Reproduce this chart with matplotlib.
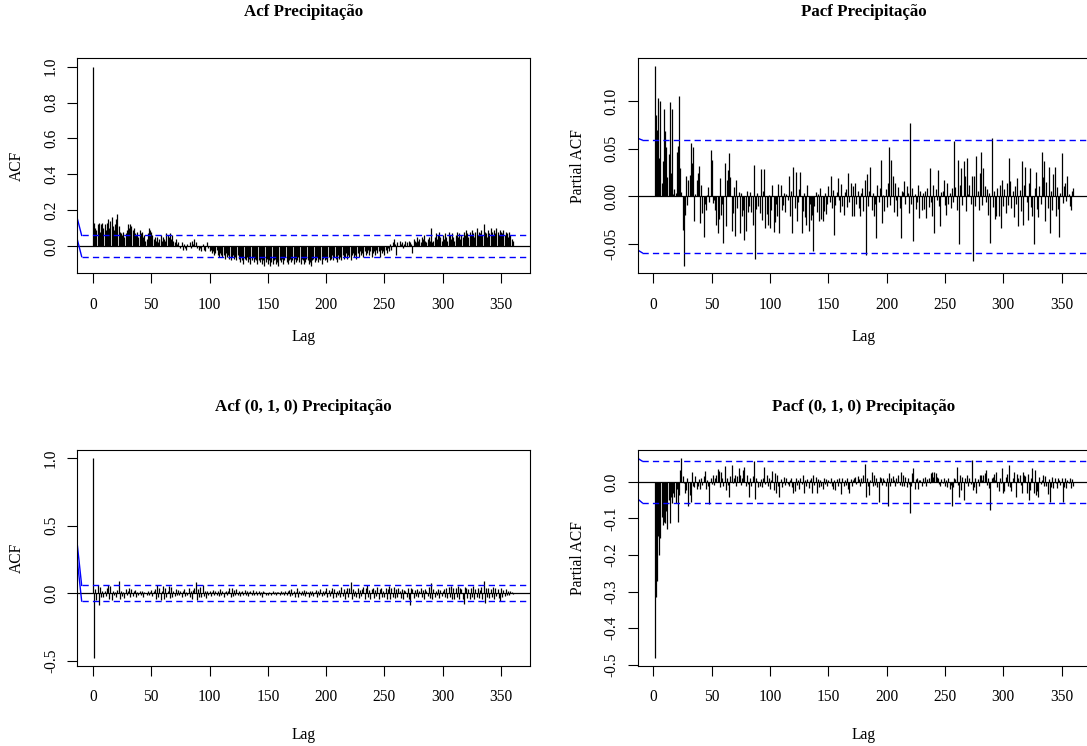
import matplotlib
matplotlib.use("Agg")
import matplotlib.pyplot as plt
import numpy as np

plt.rcParams['font.family'] = ['Liberation Serif', 'DejaVu Serif']

# ---------------- data ----------------
titles = ["Acf Precipitação", "Pacf Precipitação",
          "Acf (0, 1, 0) Precipitação", "Pacf (0, 1, 0) Precipitação"]
ylabels = ["ACF", "Partial ACF", "ACF", "Partial ACF"]
x_ticks = [0, 50, 100, 150, 200, 250, 300, 350]

acf_lags = list(range(0, 361))
pacf_lags = list(range(1, 361))

acf_orig = [
    1.00,
    0.13, 0.10, 0.09, 0.12, 0.13, 0.08, 0.12, 0.13, 0.10, 0.12,
    0.09, 0.13, 0.15, 0.10, 0.14, 0.16, 0.11, 0.09, 0.12, 0.15,
    0.18, 0.11, 0.08, 0.07, 0.06, 0.08, 0.05, 0.07, 0.09, 0.12,
    0.10, 0.12, 0.11, 0.09, 0.10, 0.07, 0.06, 0.08, 0.05, 0.09,
    0.07, 0.08, 0.05, 0.06, 0.03, 0.04, 0.07, 0.10, 0.09, 0.08,
    0.06, 0.04, 0.05, 0.03, 0.05, 0.02, 0.04, 0.06, 0.03, 0.05,
    0.04, 0.03, 0.07, 0.06, 0.05, 0.07, 0.04, 0.06, 0.03, 0.02,
    0.04, 0.01, 0.02, 0.00, -0.01, 0.02, -0.02, 0.01, -0.01, -0.02,
    0.01, 0.00, 0.02, -0.01, 0.03, 0.01, 0.04, 0.02, -0.01, 0.00,
    -0.02, -0.01, -0.03, 0.01, -0.02, -0.03, 0.00, 0.02, -0.01, -0.03,
    -0.02, -0.04, -0.03, -0.05, -0.04, -0.02, -0.05, -0.06, -0.04, -0.05,
    -0.06, -0.05, -0.07, -0.04, -0.06, -0.05, -0.07, -0.08, -0.06, -0.05,
    -0.07, -0.06, -0.08, -0.05, -0.07, -0.09, -0.06, -0.08, -0.10, -0.07,
    -0.08, -0.06, -0.09, -0.07, -0.10, -0.08, -0.06, -0.09, -0.07, -0.08,
    -0.10, -0.08, -0.09, -0.07, -0.10, -0.08, -0.11, -0.09, -0.07, -0.10,
    -0.08, -0.11, -0.09, -0.10, -0.08, -0.07, -0.10, -0.09, -0.11, -0.08,
    -0.09, -0.07, -0.10, -0.08, -0.06, -0.09, -0.10, -0.08, -0.07, -0.09,
    -0.08, -0.10, -0.07, -0.09, -0.08, -0.06, -0.09, -0.10, -0.07, -0.08,
    -0.10, -0.09, -0.07, -0.08, -0.10, -0.09, -0.11, -0.08, -0.07, -0.09,
    -0.08, -0.06, -0.09, -0.07, -0.08, -0.10, -0.07, -0.06, -0.08, -0.07,
    -0.09, -0.06, -0.08, -0.07, -0.05, -0.08, -0.06, -0.07, -0.09, -0.05,
    -0.07, -0.06, -0.08, -0.05, -0.07, -0.06, -0.04, -0.07, -0.05, -0.06,
    -0.08, -0.05, -0.04, -0.06, -0.05, -0.07, -0.04, -0.06, -0.03, -0.05,
    -0.04, -0.06, -0.03, -0.05, -0.04, -0.02, -0.05, -0.03, -0.06, -0.04,
    -0.03, -0.05, -0.02, -0.04, -0.03, -0.06, -0.02, -0.04, -0.03, -0.05,
    -0.02, -0.04, -0.01, -0.03, 0.01, -0.02, 0.02, 0.04, 0.01, -0.05,
    0.02, 0.00, 0.03, 0.01, 0.02, -0.01, 0.01, 0.03, 0.02, 0.00,
    0.03, 0.02, 0.01, -0.04, 0.04, 0.03, 0.02, 0.05, 0.03, 0.04,
    0.02, 0.05, 0.04, 0.06, 0.03, 0.02, 0.04, 0.05, 0.03, 0.10,
    0.02, 0.03, 0.05, 0.07, 0.04, 0.06, 0.08, 0.05, 0.03, 0.06,
    0.04, 0.07, 0.05, 0.03, 0.08, 0.06, 0.04, 0.07, 0.05, 0.03,
    0.06, 0.08, 0.05, 0.07, 0.04, 0.06, 0.05, 0.08, 0.06, 0.09,
    0.07, 0.05, 0.08, 0.06, 0.09, 0.07, 0.05, 0.08, 0.10, 0.06,
    0.08, 0.07, 0.09, 0.06, 0.12, 0.08, 0.07, 0.05, 0.09, 0.07,
    0.10, 0.08, 0.06, 0.09, 0.07, 0.10, 0.08, 0.06, 0.09, 0.08,
    0.07, 0.09, 0.06, 0.08, 0.07, 0.05, 0.08, 0.06, 0.04, 0.03,
]

pacf_orig = [
    0.137, 0.085, 0.070, 0.103, 0.040, 0.100, 0.014, 0.037, 0.092, 0.068,
    0.052, 0.020, 0.044, 0.099, 0.025, 0.092, 0.003, 0.008, 0.004, 0.046,
    0.053, 0.105, 0.030, 0.005, -0.035, -0.073, -0.019, 0.021, -0.009, 0.017,
    0.022, 0.056, 0.035, 0.052, -0.026, 0.003, 0.017, 0.024, 0.032, -0.028,
    0.012, -0.017, -0.042, -0.008, -0.014, 0.002, 0.010, -0.006, 0.049, 0.038,
    -0.007, -0.004, -0.014, -0.030, -0.038, -0.024, 0.019, -0.019, -0.008, -0.049,
    0.035, -0.031, 0.017, 0.028, 0.045, 0.020, -0.036, -0.017, 0.010, -0.041,
    0.017, -0.012, 0.005, -0.038, 0.004, -0.020, -0.014, -0.046, -0.036, 0.006,
    -0.016, -0.010, 0.005, -0.016, -0.030, 0.033, -0.066, -0.013, 0.004, -0.010,
    -0.017, 0.029, -0.025, 0.006, 0.029, -0.033, -0.018, -0.030, 0.002, -0.033,
    -0.014, 0.012, -0.037, -0.027, -0.008, -0.020, 0.013, -0.038, 0.012, -0.014,
    -0.009, 0.004, -0.016, 0.003, -0.004, 0.021, -0.021, 0.006, -0.038, 0.031,
    -0.012, 0.026, -0.026, -0.006, 0.008, 0.026, -0.038, -0.015, 0.004, -0.022,
    -0.030, 0.012, -0.036, -0.008, -0.025, -0.019, -0.057, -0.010, 0.005, -0.016,
    0.003, -0.026, 0.009, -0.024, -0.026, -0.015, 0.004, -0.018, -0.008, 0.011,
    -0.006, 0.021, -0.012, 0.007, -0.040, -0.009, 0.005, 0.019, -0.004, -0.016,
    0.013, -0.010, -0.019, 0.005, 0.008, -0.011, 0.024, -0.006, 0.014, -0.020,
    0.011, -0.021, 0.014, -0.008, 0.006, -0.012, -0.021, 0.004, 0.009, -0.015,
    0.017, -0.061, 0.023, -0.010, 0.006, 0.031, -0.014, 0.004, -0.020, -0.008,
    -0.044, 0.012, -0.006, 0.009, 0.038, -0.028, 0.002, -0.015, 0.008, -0.011,
    0.014, 0.052, -0.009, 0.038, 0.021, -0.016, 0.014, -0.004, -0.021, 0.010,
    -0.012, -0.044, 0.006, 0.005, 0.016, -0.008, 0.011, 0.004, -0.017, 0.077,
    -0.008, 0.009, -0.047, 0.003, -0.013, -0.006, 0.012, -0.023, 0.006, -0.014,
    0.004, -0.013, 0.006, -0.023, 0.009, -0.011, 0.030, -0.006, -0.020, 0.012,
    -0.038, 0.008, -0.004, 0.028, -0.010, -0.031, 0.005, 0.006, 0.017, -0.009,
    -0.019, 0.014, -0.008, 0.004, -0.012, 0.009, -0.006, 0.058, 0.010, -0.014,
    0.038, -0.050, 0.012, 0.030, -0.009, 0.037, 0.021, -0.015, 0.040, 0.003,
    0.012, -0.008, 0.021, -0.068, 0.021, -0.010, 0.042, 0.006, -0.014, 0.024,
    0.046, -0.009, 0.030, 0.011, -0.006, 0.008, -0.019, 0.004, -0.049, 0.061,
    -0.011, 0.006, -0.024, -0.020, 0.009, -0.021, 0.012, -0.033, 0.017, -0.010,
    0.008, -0.017, 0.014, -0.009, 0.040, 0.016, -0.012, 0.006, -0.022, 0.011,
    -0.008, 0.019, -0.031, 0.007, -0.015, 0.037, -0.030, 0.012, 0.031, -0.006,
    -0.025, 0.014, 0.030, -0.011, -0.020, -0.050, 0.009, 0.026, -0.013, -0.022,
    0.011, -0.008, 0.046, 0.020, 0.037, -0.026, 0.015, -0.012, 0.031, -0.038,
    0.006, -0.014, 0.023, 0.031, -0.021, 0.010, -0.013, -0.042, 0.004, 0.045,
    -0.007, 0.011, 0.014, -0.005, 0.021, 0.003, -0.010, -0.014, 0.006, 0.009,
]

acf_diff = [
    1.000, -0.480, 0.030, -0.050, 0.060, -0.086, 0.045, -0.030, 0.020, -0.025,
    0.015, -0.020, 0.035, 0.060, -0.040, 0.055, -0.050, 0.020, -0.015, 0.010,
    -0.030, 0.025, 0.094, -0.045, 0.015, -0.020, 0.010, -0.035, 0.030, -0.015,
    0.020, 0.035, -0.025, 0.030, -0.020, 0.015, 0.025, -0.030, 0.010, -0.015,
    0.020, -0.010, 0.015, -0.025, 0.010, 0.005, -0.015, 0.020, -0.010, 0.008,
    0.025, -0.020, 0.015, 0.030, -0.045, 0.060, -0.030, 0.040, -0.050, 0.020,
    0.055, -0.040, 0.035, -0.025, 0.020, 0.050, -0.035, 0.045, -0.030, 0.015,
    -0.020, 0.030, -0.015, 0.025, -0.010, 0.020, -0.025, 0.015, 0.030, -0.020,
    0.010, -0.015, 0.035, -0.030, 0.020, -0.045, 0.025, 0.040, 0.080, -0.050,
    0.030, -0.025, 0.045, -0.030, 0.060, -0.020, 0.015, -0.035, 0.020, -0.010,
    0.015, -0.020, 0.010, 0.025, -0.015, 0.020, -0.010, 0.015, -0.020, 0.030,
    -0.015, 0.020, -0.025, 0.010, 0.015, -0.010, 0.020, 0.035, -0.030, 0.040,
    -0.020, 0.025, -0.015, 0.030, -0.010, 0.015, -0.020, 0.010, 0.020, -0.015,
    0.025, -0.010, 0.015, -0.020, 0.010, 0.020, -0.015, 0.025, -0.010, 0.005,
    0.015, -0.010, 0.020, -0.015, 0.010, -0.025, 0.015, 0.010, -0.010, 0.005,
    -0.015, 0.010, 0.005, -0.010, 0.015, -0.005, 0.010, -0.015, 0.008, 0.012,
    -0.010, 0.015, -0.005, 0.010, -0.015, 0.020, -0.010, 0.015, 0.025, -0.020,
    0.030, -0.015, 0.020, -0.025, 0.010, 0.035, -0.030, 0.015, -0.010, 0.020,
    -0.015, 0.025, -0.020, 0.015, 0.010, -0.025, 0.020, -0.010, 0.015, -0.020,
    0.010, 0.025, -0.030, 0.020, -0.015, 0.030, -0.020, 0.015, -0.010, 0.020,
    0.035, -0.030, 0.025, -0.020, 0.015, 0.040, -0.035, 0.030, -0.025, 0.020,
    -0.015, 0.025, -0.030, 0.045, -0.020, 0.030, -0.040, 0.020, 0.035, -0.025,
    0.040, 0.080, -0.045, 0.030, -0.020, 0.015, -0.030, 0.040, -0.035, 0.025,
    -0.020, 0.030, 0.045, -0.040, 0.035, 0.060, -0.030, 0.025, -0.045, 0.030,
    0.040, -0.035, 0.025, -0.020, 0.045, -0.040, 0.030, 0.035, -0.030, 0.020,
    -0.025, 0.040, -0.045, 0.030, 0.050, -0.040, 0.035, -0.030, 0.045, -0.035,
    0.030, -0.025, 0.040, 0.020, -0.035, 0.030, -0.040, 0.025, 0.015, -0.030,
    0.035, -0.045, -0.086, 0.040, 0.030, -0.035, 0.025, -0.020, 0.030, -0.025,
    0.020, 0.035, -0.030, 0.025, -0.040, 0.030, 0.015, -0.020, 0.045, -0.035,
    0.076, -0.040, 0.030, -0.025, 0.020, -0.015, 0.030, -0.035, 0.025, -0.020,
    0.015, 0.030, -0.025, 0.040, -0.035, 0.045, -0.030, 0.050, -0.040, 0.035,
    -0.045, 0.040, -0.030, 0.055, -0.040, 0.035, 0.030, -0.045, -0.080, 0.045,
    0.040, -0.035, 0.030, -0.045, 0.035, -0.030, 0.050, -0.040, 0.030, -0.025,
    0.040, -0.035, 0.025, 0.045, -0.040, 0.094, -0.070, 0.035, -0.030, 0.040,
    -0.035, 0.030, -0.025, 0.045, -0.040, 0.035, -0.020, 0.030, -0.035, -0.060,
    0.040, -0.030, 0.025, -0.020, 0.030, -0.015, 0.020, -0.010, 0.015, 0.010,
    -0.005,
]

pacf_diff = [
    -0.482, -0.316, -0.270, -0.147, -0.200, -0.154, -0.095, -0.117, -0.110, -0.113,
    -0.080, -0.129, -0.050, -0.113, -0.040, -0.058, -0.030, -0.040, -0.058, -0.020,
    -0.109, -0.035, 0.033, 0.065, 0.015, -0.004, -0.031, -0.022, 0.010, -0.067,
    -0.036, -0.054, 0.026, -0.012, -0.015, 0.015, -0.020, -0.012, 0.008, -0.018,
    0.010, -0.008, 0.015, 0.031, -0.020, 0.005, -0.012, -0.060, 0.010, -0.006,
    0.019, -0.008, 0.012, 0.020, 0.035, 0.031, -0.015, 0.028, 0.010, -0.012,
    0.044, -0.022, 0.012, -0.008, -0.040, 0.015, 0.046, -0.004, 0.012, 0.020,
    -0.010, 0.015, 0.037, 0.020, -0.008, 0.012, 0.033, 0.042, -0.010, 0.018,
    -0.005, -0.040, 0.010, -0.012, 0.015, 0.056, -0.047, 0.012, 0.002, -0.015,
    -0.010, 0.008, -0.014, 0.012, 0.040, -0.006, 0.020, -0.012, 0.010, -0.018,
    0.006, 0.031, -0.022, 0.024, -0.030, 0.019, -0.010, -0.040, 0.008, -0.013,
    -0.004, 0.014, -0.009, 0.010, -0.006, -0.012, 0.005, 0.010, -0.015, -0.031,
    -0.024, 0.012, -0.008, 0.006, -0.020, 0.010, -0.005, 0.019, -0.031, 0.006,
    -0.012, 0.008, -0.016, 0.004, 0.012, -0.031, 0.019, -0.008, 0.014, -0.030,
    0.008, -0.015, 0.005, -0.012, -0.020, 0.010, -0.006, 0.008, -0.010, 0.004,
    -0.004, 0.012, -0.010, -0.020, 0.006, -0.022, 0.008, -0.010, 0.012, -0.004,
    -0.032, 0.010, -0.012, 0.006, -0.008, 0.012, -0.018, -0.031, 0.008, -0.010,
    0.004, 0.010, 0.014, -0.006, 0.015, 0.008, -0.012, 0.010, -0.004, 0.018,
    0.049, -0.040, 0.010, -0.012, -0.035, 0.006, 0.028, -0.010, 0.020, -0.008,
    0.012, -0.015, -0.056, 0.014, 0.010, -0.008, 0.012, 0.006, -0.012, 0.010,
    -0.066, 0.024, -0.010, 0.012, 0.015, 0.006, -0.012, 0.010, -0.004, 0.018,
    -0.008, 0.028, -0.012, 0.020, -0.012, 0.014, -0.014, 0.010, -0.006, -0.086,
    -0.012, 0.024, 0.037, -0.018, 0.008, 0.010, -0.020, 0.004, 0.006, -0.010,
    0.012, -0.004, 0.014, -0.012, 0.008, 0.010, -0.004, 0.024, 0.026, 0.014,
    0.028, 0.024, 0.014, 0.010, -0.006, -0.012, 0.008, -0.004, 0.012, -0.010,
    0.006, -0.014, 0.010, -0.020, -0.008, -0.067, -0.014, 0.012, 0.008, 0.042,
    -0.008, -0.040, 0.018, -0.022, 0.014, -0.050, 0.010, -0.004, 0.018, -0.012,
    0.010, -0.006, 0.060, -0.022, -0.014, 0.012, -0.030, 0.008, -0.012, 0.020,
    0.019, 0.006, 0.019, 0.024, 0.033, -0.008, 0.012, -0.016, -0.077, 0.010,
    0.014, 0.021, 0.006, 0.028, -0.014, -0.026, 0.012, -0.004, 0.037, -0.031,
    -0.026, 0.014, 0.022, -0.010, 0.046, -0.014, -0.026, 0.012, 0.028, -0.001,
    -0.040, 0.022, 0.010, 0.018, -0.008, -0.031, 0.026, 0.020, 0.016, -0.030,
    0.022, -0.049, -0.022, 0.010, 0.037, -0.031, 0.033, -0.036, -0.026, -0.040,
    0.014, -0.006, 0.006, 0.019, -0.012, 0.015, -0.010, -0.032, 0.008, -0.054,
    -0.013, 0.014, -0.017, 0.010, -0.004, -0.017, 0.012, 0.005, -0.008, 0.010,
    -0.054, -0.013, 0.010, -0.017, 0.006, -0.004, 0.010, -0.017, 0.008, -0.010,
]

ci_levels = [0.059, 0.059, 0.058, 0.057]
# left-edge blue segments (start values of upper / lower bound lines)
ci_start_upper = [0.16, 0.061, 0.38, 0.065]
ci_start_lower = [0.043, -0.056, 0.263, -0.046]

y_ticks = [
    [0.0, 0.2, 0.4, 0.6, 0.8, 1.0],
    [-0.05, 0.00, 0.05, 0.10],
    [-0.5, 0.0, 0.5, 1.0],
    [-0.5, -0.4, -0.3, -0.2, -0.1, 0.0],
]
y_ticklabels = [
    ["0.0", "0.2", "0.4", "0.6", "0.8", "1.0"],
    ["-0.05", "0.00", "0.05", "0.10"],
    ["-0.5", "0.0", "0.5", "1.0"],
    ["-0.5", "-0.4", "-0.3", "-0.2", "-0.1", "0.0"],
]

# ---------------- layout ----------------
W, H = 1087, 746
fig = plt.figure(figsize=(W / 100, H / 100), dpi=100)

boxes = [  # left, top, right, bottom in pixels
    (77, 58, 530, 273),
    (637.5, 58.3, 1090.5, 273.3),
    (77, 450, 530, 665.7),
    (637.5, 450, 1090.5, 665.7),
]
title_y = [12, 12, 407, 407]
lag_y = [337, 337, 735, 735]
ylims = [(-0.1506, 1.0485), (-0.0805, 0.1446), (-0.537, 1.061), (-0.503, 0.0874)]
xlim = (-13.7, 374.8)

series = [(acf_lags, acf_orig), (pacf_lags, pacf_orig),
          (acf_lags, acf_diff), (pacf_lags, pacf_diff)]

for i in range(4):
    l, t, r, b = boxes[i]
    ax = fig.add_axes([l / W, 1 - b / H, (r - l) / W, (b - t) / H])
    lags, vals = series[i]
    ax.vlines(lags, 0, vals, color='black', lw=0.9)
    ax.axhline(0, color='black', lw=0.9)
    ci = ci_levels[i]
    ax.plot([-9.7, 400], [ci, ci], color='#0000ff', lw=1.0, ls=(0, (4.5, 3)))
    ax.plot([-9.7, 400], [-ci, -ci], color='#0000ff', lw=1.0, ls=(0, (4.5, 3)))
    ax.plot([-13.7, -9.7], [ci_start_upper[i], ci], color='#0000ff', lw=1.0)
    ax.plot([-13.7, -9.7], [ci_start_lower[i], -ci], color='#0000ff', lw=1.0)
    ax.set_xlim(*xlim)
    ax.set_ylim(*ylims[i])
    ax.set_xticks(x_ticks)
    ax.set_xticklabels([str(v) for v in x_ticks])
    ax.set_yticks(y_ticks[i])
    ax.set_yticklabels(y_ticklabels[i])
    ax.tick_params(direction='out', length=7, width=0.8, labelsize=11.2,
                   top=False, right=False)
    ax.tick_params(axis='x', pad=10)
    ax.tick_params(axis='y', pad=6)
    for lbl in ax.get_yticklabels():
        lbl.set_rotation(90)
        lbl.set_va('center')
    for sp in ax.spines.values():
        sp.set_linewidth(0.8)
        sp.set_color('black')

    cx = (l + r) / 2
    fig.text(cx / W, 1 - title_y[i] / H, titles[i], ha='center', va='center',
             fontsize=12.2, fontweight='bold')
    fig.text(cx / W, 1 - lag_y[i] / H, "Lag", ha='center', va='center', fontsize=11.2)
    ylx = 17 if i % 2 == 0 else 578
    fig.text(ylx / W, 1 - ((t + b) / 2) / H, ylabels[i], ha='center', va='center',
             rotation=90, fontsize=11.2)

fig.savefig("out.png", dpi=100)
